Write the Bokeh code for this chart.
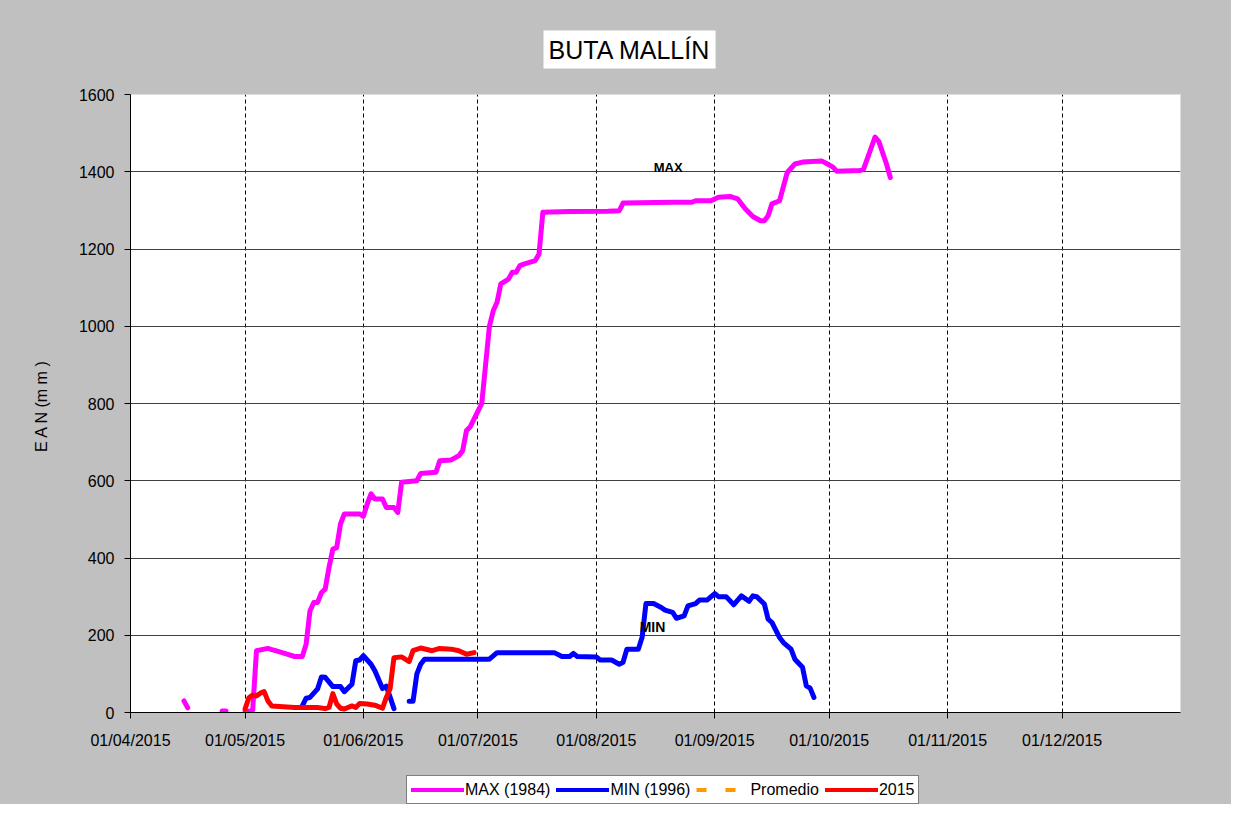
import numpy as np
import pandas as pd
from bokeh.plotting import figure
from bokeh.layouts import column
from bokeh.models import (Range1d, FixedTicker, DatetimeTickFormatter, Legend,
                          LegendItem, Label)
from bokeh.embed import file_html
from bokeh.resources import INLINE

# ---------------- data ----------------
TITLE = "BUTA MALLÍN"
Y_LABEL = "E A N  (m m )"
TICK_DATES = ["2015-04-01", "2015-05-01", "2015-06-01", "2015-07-01", "2015-08-01",
              "2015-09-01", "2015-10-01", "2015-11-01", "2015-12-01"]
Y_TICKS = [0, 200, 400, 600, 800, 1000, 1200, 1400, 1600]

MAX_DATES = ["2015-04-15", "2015-04-16", "2015-04-17",
             "2015-04-25", "2015-04-26", "2015-04-27",
             "2015-05-01", "2015-05-02", "2015-05-03", "2015-05-04", "2015-05-06",
             "2015-05-07", "2015-05-08", "2015-05-09", "2015-05-12", "2015-05-14",
             "2015-05-16", "2015-05-17", "2015-05-18", "2015-05-19", "2015-05-20",
             "2015-05-21", "2015-05-22", "2015-05-23", "2015-05-24", "2015-05-25",
             "2015-05-26", "2015-05-27", "2015-05-31", "2015-06-01", "2015-06-02",
             "2015-06-03", "2015-06-04", "2015-06-06", "2015-06-07", "2015-06-09",
             "2015-06-10", "2015-06-11", "2015-06-15", "2015-06-16", "2015-06-20",
             "2015-06-21", "2015-06-24", "2015-06-26", "2015-06-27", "2015-06-28",
             "2015-06-29", "2015-06-30", "2015-07-01", "2015-07-02", "2015-07-03",
             "2015-07-04", "2015-07-05", "2015-07-06", "2015-07-07", "2015-07-09",
             "2015-07-10", "2015-07-11", "2015-07-12", "2015-07-13", "2015-07-16",
             "2015-07-17", "2015-07-18", "2015-07-25", "2015-08-04", "2015-08-07",
             "2015-08-08", "2015-08-21", "2015-08-26", "2015-08-27", "2015-08-31",
             "2015-09-02", "2015-09-05", "2015-09-07", "2015-09-09", "2015-09-11",
             "2015-09-13", "2015-09-14", "2015-09-15", "2015-09-16", "2015-09-18",
             "2015-09-20", "2015-09-22", "2015-09-24", "2015-09-29", "2015-09-30",
             "2015-10-02", "2015-10-03", "2015-10-09", "2015-10-10", "2015-10-13",
             "2015-10-14", "2015-10-16", "2015-10-17"]
MAX_VALUES = [30, 12, None,
              4, 4, None,
              3, 3, 6, 160, 164,
              166, 163, 160, 151, 145,
              145, 177, 263, 285, 285,
              310, 320, 376, 423, 427,
              488, 514, 514, 508, 540,
              566, 553, 553, 531, 531,
              518, 596, 600, 619, 622,
              652, 654, 665, 678, 730,
              740, 760, 780, 800, 900,
              1000, 1040, 1062, 1110, 1122,
              1140, 1140, 1157, 1161, 1170,
              1187, 1295, 1297, 1298, 1299,
              1319, 1321, 1321, 1325, 1325,
              1334, 1336, 1330, 1304, 1284,
              1273, 1273, 1286, 1317, 1325,
              1398, 1420, 1425, 1428, 1423,
              1412, 1401, 1403, 1407, 1490,
              1478, 1420, 1385]

MIN_DATES = ["2015-05-16", "2015-05-17", "2015-05-18", "2015-05-20", "2015-05-21",
             "2015-05-22", "2015-05-24", "2015-05-26", "2015-05-27", "2015-05-29",
             "2015-05-30", "2015-05-31", "2015-06-01", "2015-06-03", "2015-06-04",
             "2015-06-06", "2015-06-07", "2015-06-08", "2015-06-09", "2015-06-10",
             "2015-06-13", "2015-06-14", "2015-06-15", "2015-06-16", "2015-06-17",
             "2015-07-04", "2015-07-06", "2015-07-21", "2015-07-23", "2015-07-25",
             "2015-07-26", "2015-07-27", "2015-08-01", "2015-08-02", "2015-08-05",
             "2015-08-07", "2015-08-08", "2015-08-09", "2015-08-12", "2015-08-13",
             "2015-08-14", "2015-08-16", "2015-08-18", "2015-08-19", "2015-08-21",
             "2015-08-22", "2015-08-24", "2015-08-25", "2015-08-27", "2015-08-28",
             "2015-08-30", "2015-09-01", "2015-09-02", "2015-09-04", "2015-09-06",
             "2015-09-08", "2015-09-10", "2015-09-11", "2015-09-12", "2015-09-14",
             "2015-09-15", "2015-09-16", "2015-09-18", "2015-09-19", "2015-09-21",
             "2015-09-22", "2015-09-24", "2015-09-25", "2015-09-26", "2015-09-27"]
MIN_VALUES = [17, 37, 39, 61, 92,
              91, 67, 67, 54, 73,
              134, 136, 147, 125, 108,
              62, 68, 40, 10, None,
              29, 29, 100, 125, 138,
              138, 155, 155, 145, 145,
              153, 145, 144, 136, 136,
              125, 130, 164, 164, 195,
              282, 282, 272, 265, 259,
              244, 250, 276, 282, 291,
              291, 308, 300, 300, 279,
              302, 288, 302, 300, 281,
              242, 233, 194, 181, 164,
              138, 117, 69, 63, 39]

Y2015_DATES = ["2015-05-01", "2015-05-02", "2015-05-03", "2015-05-04", "2015-05-05",
               "2015-05-06", "2015-05-07", "2015-05-08", "2015-05-11", "2015-05-14",
               "2015-05-20", "2015-05-22", "2015-05-23", "2015-05-24", "2015-05-25",
               "2015-05-26", "2015-05-27", "2015-05-29", "2015-05-30", "2015-05-31",
               "2015-06-02", "2015-06-04", "2015-06-06", "2015-06-07", "2015-06-08",
               "2015-06-09", "2015-06-11", "2015-06-13", "2015-06-14", "2015-06-16",
               "2015-06-19", "2015-06-21", "2015-06-24", "2015-06-26", "2015-06-28",
               "2015-06-30"]
Y2015_VALUES = [9, 38, 45, 43, 50,
                54, 30, 17, 15, 13,
                13, 10, 13, 49, 22,
                11, 9, 17, 13, 23,
                22, 19, 11, 39, 62,
                142, 144, 132, 160, 167,
                160, 166, 164, 160, 151,
                155]

PROMEDIO_DATES = []
PROMEDIO_VALUES = []

SERIES_NAMES = ["MAX (1984)", "MIN (1996)", "Promedio", "2015"]
SERIES_COLORS = ["#ff00ff", "#0000ff", "#ff9900", "#ff0000"]
SERIES_DASHES = ["solid", "solid", "10 19", "solid"]


def to_dt(lst):
    return pd.to_datetime(lst)


def to_vals(lst):
    return np.array([np.nan if v is None else v for v in lst], dtype=float)


def ms(d):
    return (pd.Timestamp(d) - pd.Timestamp("1970-01-01")).total_seconds() * 1000.0


FONT = "Liberation Sans, Arial, sans-serif"
GRAY = "#c0c0c0"

p = figure(width=1231, height=772, x_axis_type="datetime",
           output_backend="svg", toolbar_location=None,
           x_range=Range1d(pd.Timestamp("2015-04-01"), pd.Timestamp("2016-01-01")),
           y_range=Range1d(0, 1600),
           min_border_left=130, min_border_right=51,
           min_border_top=94, min_border_bottom=60,
           background_fill_color="white", border_fill_color=GRAY,
           outline_line_color="#dddddd")

# title
p.title.text = TITLE
p.title.text_font = FONT
p.title.text_font_size = "25px"
p.title.text_font_style = "normal"
p.title.text_color = "black"
p.title.align = "left"
p.title.offset = 413
p.title.standoff = 52
tprops = p.title.properties()
if "background_fill_color" in tprops:
    p.title.background_fill_color = "white"
if "padding" in tprops:
    p.title.padding = 5

# axes
tick_ms = [ms(d) for d in TICK_DATES]
xax = p.xaxis[0]
xax.ticker = FixedTicker(ticks=tick_ms)
fmt = "%d/%m/%Y"
xax.formatter = DatetimeTickFormatter(days=fmt, months=fmt, years=fmt, hours=fmt,
                                      hourmin=fmt, minutes=fmt, minsec=fmt,
                                      seconds=fmt, milliseconds=fmt,
                                      microseconds=fmt)
yax = p.yaxis[0]
yax.ticker = FixedTicker(ticks=Y_TICKS)
yax.axis_label = Y_LABEL

for ax in (xax, yax):
    ax.axis_line_color = "black"
    ax.axis_line_width = 1
    ax.major_tick_line_color = "black"
    ax.major_tick_out = 6
    ax.major_tick_in = 0
    ax.minor_tick_line_color = None
    ax.major_label_text_font = FONT
    ax.major_label_text_font_size = "16px"
    ax.major_label_text_color = "black"
    ax.axis_label_text_font = FONT
    ax.axis_label_text_font_size = "16px"
    ax.axis_label_text_font_style = "normal"
    ax.axis_label_text_color = "black"
    props = ax.properties()
    if "major_label_background_fill_color" in props:
        ax.major_label_background_fill_color = "white"
    if "axis_label_background_fill_color" in props:
        ax.axis_label_background_fill_color = "white"
xax.major_label_standoff = 13
yax.major_label_standoff = 10
yax.axis_label_standoff = 26

# grids
p.xgrid.ticker = FixedTicker(ticks=tick_ms[1:])
p.xgrid.grid_line_color = "black"
p.xgrid.grid_line_dash = "4 3"
p.xgrid.grid_line_width = 1
p.ygrid.ticker = FixedTicker(ticks=Y_TICKS[1:-1])
p.ygrid.grid_line_color = "#404040"
p.ygrid.grid_line_width = 1

# series
common = dict(line_width=5, line_join="round", line_cap="round")
p.line(to_dt(MAX_DATES), to_vals(MAX_VALUES), line_color=SERIES_COLORS[0], **common)
p.line(to_dt(MIN_DATES), to_vals(MIN_VALUES), line_color=SERIES_COLORS[1], **common)
p.line(to_dt(PROMEDIO_DATES), to_vals(PROMEDIO_VALUES), line_color=SERIES_COLORS[2],
       line_width=4, line_dash=SERIES_DASHES[2])
p.line(to_dt(Y2015_DATES), to_vals(Y2015_VALUES), line_color=SERIES_COLORS[3], **common)

# annotations
p.add_layout(Label(x=pd.Timestamp("2015-08-19 20:00"), y=1411, text="MAX",
                   text_font=FONT, text_font_size="13px", text_font_style="bold",
                   text_align="center", text_baseline="middle", text_color="black"))
p.add_layout(Label(x=pd.Timestamp("2015-08-15 17:00"), y=222, text="MIN",
                   text_font=FONT, text_font_size="14px", text_font_style="bold",
                   text_align="center", text_baseline="middle", text_color="black"))

# ---------------- legend strip (separate figure under the chart) ----------------
lg = figure(width=1231, height=32, title=None, output_backend="svg",
            toolbar_location=None, x_axis_location=None, y_axis_location=None,
            x_range=Range1d(0, 1), y_range=Range1d(0, 1),
            min_border_left=0, min_border_right=0, min_border_top=0,
            min_border_bottom=0, background_fill_color=None,
            border_fill_color=None, outline_line_color=None)
lg.grid.visible = False
items = []
for i, name in enumerate(SERIES_NAMES):
    # legend proxies: a single missing (NaN) point, nothing is drawn in the strip
    r = lg.line([np.nan], [np.nan], line_color=SERIES_COLORS[i],
                line_width=4, line_dash=SERIES_DASHES[i],
                line_cap="round" if SERIES_DASHES[i] == "solid" else "butt")
    items.append(LegendItem(label=name, renderers=[r]))

legend = Legend(items=items, orientation="horizontal", location=(276, 0),
                glyph_width=53, glyph_height=19, label_standoff=1, spacing=6,
                padding=4, margin=0,
                label_text_font=FONT, label_text_font_size="16px",
                label_text_color="black",
                background_fill_color="white", background_fill_alpha=1.0,
                border_line_color="black", border_line_width=1)
lg.add_layout(legend)

layout = column(p, lg, spacing=0, styles={"background-color": GRAY})
open("out.html", "w").write(file_html(layout, INLINE))
